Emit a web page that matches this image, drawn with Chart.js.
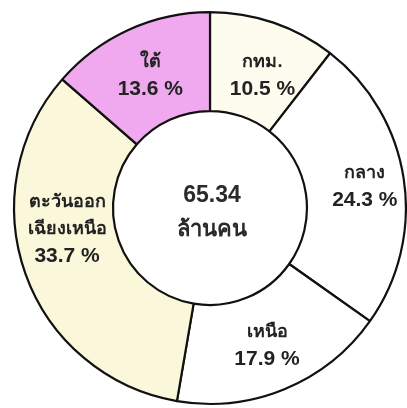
<!DOCTYPE html>
<html>
<head>
<meta charset="utf-8">
<script src="https://cdn.jsdelivr.net/npm/chart.js@4"></script>
<style>
  html, body { margin: 0; padding: 0; background: #ffffff; }
  #wrap { position: relative; width: 407px; height: 408px; overflow: hidden; }
  canvas { display: block; }
</style>
</head>
<body>
<div id="wrap"><canvas id="c" width="407" height="408"></canvas></div>
<script>
// ---- data ----
const regionNames = [["กทม."], ["กลาง"], ["เหนือ"], ["ตะวันออก", "เฉียงเหนือ"], ["ใต้"]];
const sharePercent = [10.5, 24.3, 17.9, 33.7, 13.6];
const totalPopulation = "65.34";
const totalUnit = "ล้านคน";

// ---- styling ----
const sliceColors = ["#fdfcee", "#ffffff", "#ffffff", "#fbf7da", "#f0a8ee"];
const labelNudges = [[5, 6], [10, 0], [1, 2], [-5, -28], [1, 1]];
const FONT = "'Liberation Sans', Arial, 'DejaVu Sans', sans-serif";

const labelPlugin = {
  id: 'sliceLabels',
  afterDatasetsDraw(chart) {
    const ctx = chart.ctx;
    const meta = chart.getDatasetMeta(0);
    ctx.save();
    ctx.textAlign = 'center';
    ctx.textBaseline = 'middle';
    ctx.fillStyle = '#222222';
    meta.data.forEach((arc, i) => {
      const p = arc.tooltipPosition();
      const names = regionNames[i];
      const lines = names.concat([sharePercent[i].toFixed(1) + ' %']);
      const lh = 27;
      const cx = p.x + labelNudges[i][0];
      const cy = p.y + labelNudges[i][1];
      const top = cy - (lines.length - 1) * lh / 2;
      lines.forEach((t, k) => {
        ctx.font = (k < names.length ? 'bold 18px ' : 'bold 21px ') + FONT;
        ctx.fillText(t, cx, top + k * lh);
      });
    });
    // centre text
    const mx = meta.data[0].x, my = meta.data[0].y;
    ctx.fillStyle = '#2a2a2a';
    ctx.font = 'bold 23px ' + FONT;
    ctx.fillText(totalPopulation, mx + 2, my - 12);
    ctx.font = 'bold 22px ' + FONT;
    ctx.fillText(totalUnit, mx + 2, my + 22);
    ctx.restore();
  }
};

new Chart(document.getElementById('c'), {
  type: 'doughnut',
  data: {
    labels: regionNames.map(n => n.join('')),
    datasets: [{
      data: sharePercent,
      backgroundColor: sliceColors,
      borderColor: '#111111',
      borderWidth: 2.2,
      borderAlign: 'center'
    }]
  },
  options: {
    responsive: false,
    animation: false,
    cutout: '49.5%',
    rotation: 0,
    layout: { padding: { left: 13, top: 11, right: 0, bottom: 3 } },
    plugins: {
      legend: { display: false },
      tooltip: { enabled: false }
    }
  },
  plugins: [labelPlugin]
});
</script>
</body>
</html>
